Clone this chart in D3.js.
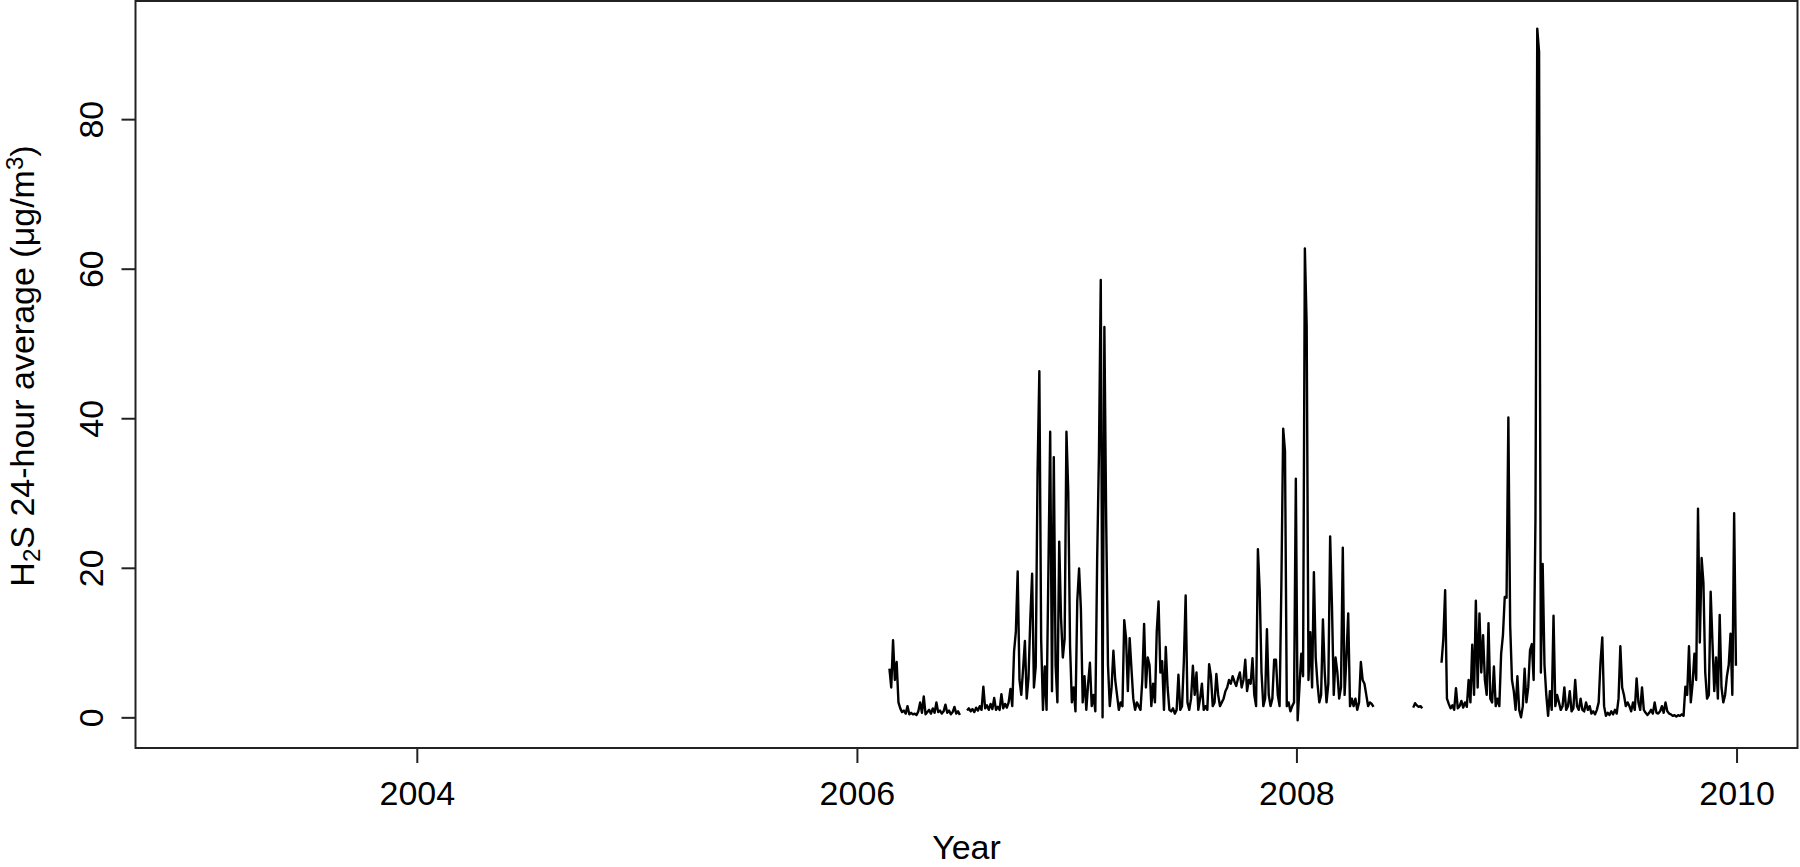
<!DOCTYPE html>
<html>
<head>
<meta charset="utf-8">
<script src="https://cdn.jsdelivr.net/npm/d3@7"></script>
<style>
  body { margin: 0; background: #fff; }
  svg text { font-family: "Liberation Sans", Arial, sans-serif; fill: #000; }
</style>
</head>
<body>
<svg id="chart"></svg>
<script>
// Daily H2S record runs 2003-01-01 .. 2009-12-31 but is only measured from 2006.
// Values below are read off the figure, one every 3 days, per measured stretch.
const seriesStart = "2003-01-01";
const seriesEnd = "2009-12-31";
const stepDays = 3;

const segStarts = ["2006-02-24", "2006-07-03", "2008-07-13", "2008-08-29"];

const segA = [
  6.5, 4.0, 10.3, 5.0, 7.4, 2.0, 1.2, 0.7, 0.9, 0.5,
  1.5, 0.4, 0.6, 0.4, 0.5, 0.3, 0.8, 2.0, 0.6, 2.8,
  0.4, 0.7, 1.0, 0.5, 1.2, 0.6, 2.0, 0.7, 0.9, 0.5,
  0.8, 1.7, 0.6, 0.9, 0.4, 0.7, 1.4, 0.5, 0.8, 0.3
];

const segB = [
  0.9, 1.2, 0.8, 1.1, 0.7, 1.3, 0.9, 1.5, 1.0, 4.1,
  1.2, 1.6, 1.0, 1.8, 1.1, 2.6, 1.0, 1.4, 1.0, 3.1,
  1.2, 1.8, 1.3, 2.0, 3.8, 1.5, 8.8, 11.5, 19.5, 5.0,
  3.0, 6.5, 10.2, 2.5, 5.3, 13.2, 19.2, 4.0, 6.8, 32.6,
  46.3, 10.4, 1.0, 6.8, 1.0, 19.5, 38.2, 3.5, 34.8, 7.0,
  2.0, 23.5, 13.3, 8.0, 10.5, 38.2, 30.2, 9.5, 2.0, 4.0,
  0.8, 15.6, 19.9, 14.5, 2.0, 5.5, 1.0, 4.5, 7.3, 1.5,
  3.0, 0.8, 21.0, 35.3, 58.5, 0.0, 52.2, 26.4, 7.0, 1.5,
  4.0, 8.9, 5.0, 3.0, 1.0, 2.0, 1.5, 13.0, 10.6, 3.5,
  10.6, 6.5, 2.5, 1.0, 2.0, 1.5, 1.0, 5.0, 12.5, 4.0,
  8.0, 7.0, 1.5, 4.5, 2.0, 11.5, 15.5, 6.0, 7.5, 1.0,
  9.4, 4.0, 1.0, 0.8, 1.2, 0.5, 1.0, 5.7, 1.0, 1.5,
  7.5, 16.3, 2.0, 1.0, 2.5, 6.9, 3.0, 6.0, 1.0, 2.5,
  4.5, 1.0, 1.5, 1.0, 7.1, 5.5, 1.5, 2.0, 5.8, 3.0,
  1.5, 2.0, 2.5, 3.5, 4.0, 5.0, 4.5, 5.5, 4.8, 4.2,
  5.2, 6.0, 4.0, 5.0, 7.7, 3.5, 5.0, 4.5, 7.9, 3.0,
  1.5, 22.5, 17.0, 6.0, 1.5, 2.5, 11.8, 3.0, 1.5, 2.5,
  7.7, 7.7, 3.0, 1.5, 17.8, 38.6, 35.6, 1.5, 2.0, 0.8,
  1.5, 2.0, 31.9, -0.4, 4.0, 8.5, 5.5, 62.7, 52.4, 5.0,
  11.4, 4.0, 19.4, 8.0, 4.5, 2.0, 3.0, 13.1, 6.0, 2.0,
  4.5, 24.2, 15.0, 3.0, 8.0, 6.0, 2.5, 4.0, 22.7, 3.0,
  8.0, 13.9, 1.5, 2.5, 1.5, 2.5, 1.0, 2.0, 7.4, 5.0,
  4.5, 3.0, 1.5, 2.0, 1.8, 1.4
];

const segC = [1.3, 1.9, 1.6, 1.4, 1.5, 1.2];

const segD = [
  7.3, 10.5, 17.0, 2.5, 1.8, 1.2, 1.6, 1.0, 3.9, 1.2,
  1.5, 2.2, 1.3, 2.0, 1.4, 5.0, 2.0, 9.7, 3.0, 15.6,
  4.0, 13.9, 6.0, 11.0, 5.0, 3.0, 12.6, 2.5, 2.0, 6.8,
  1.5, 2.5, 1.5, 8.5, 11.0, 16.1, 16.0, 40.1, 12.3, 5.0,
  3.5, 1.0, 5.5, 1.0, 0.0, 1.5, 6.5, 2.0, 4.0, 9.0,
  9.8, 5.0, 26.5, 92.1, 89.0, 6.0, 20.5, 7.0, 3.0, 0.2,
  3.5, 1.0, 13.6, 1.5, 3.0, 2.0, 1.0, 1.5, 4.0, 1.0,
  1.5, 3.5, 0.8, 1.2, 5.0, 1.5, 1.0, 2.5, 1.0, 0.8,
  2.0, 1.0, 1.5, 0.5, 0.8, 0.4, 1.0, 2.0, 7.3, 10.7,
  1.5, 0.2, 0.6, 0.3, 0.8, 0.4, 1.0, 0.5, 2.5, 9.5,
  4.0, 3.0, 1.5, 2.0, 1.5, 0.8, 2.0, 1.0, 5.2, 2.0,
  1.0, 4.0, 1.0, 0.6, 0.3, 0.6, 1.0, 0.5, 2.0, 0.6,
  0.5, 0.8, 1.5, 0.6, 2.0, 0.8, 0.5, 0.4, 0.2, 0.3,
  0.1, 0.3, 0.2, 0.4, 0.2, 4.1, 3.0, 9.5, 2.0, 4.5,
  8.5, 5.0, 27.9, 10.0, 21.3, 18.0, 6.0, 2.5, 3.0, 16.8,
  10.0, 3.5, 8.0, 2.5, 13.7, 4.0, 2.0, 3.0, 5.5, 7.0,
  11.2, 3.0, 27.3, 6.9
];

const xTickYears = [2004, 2006, 2008, 2010];
const yTicks = [0, 20, 40, 60, 80];
const xLabel = "Year";

const chart = (() => {
    var ns = {};
    ns.width = 1800;
    ns.height = 867;
    ns.marginTop = 1;
    ns.marginRight = 2.5;
    ns.marginBottom = 119;
    ns.marginLeft = 135.5;

    ns.build = function() {
        const parse = d3.utcParse("%Y-%m-%d");
        const segs = [segA, segB, segC, segD];
        ns.segments = segs.map((vals, k) => {
            const t0 = parse(segStarts[k]);
            return vals.map((v, i) => ({ date: d3.utcDay.offset(t0, i * stepDays), value: v }));
        });
    };

    ns.draw = function() {
        const { width, height, marginTop, marginRight, marginBottom, marginLeft } = ns;

        // R-style axes: data range padded by 4% on each side
        const t0 = d3.utcParse("%Y-%m-%d")(seriesStart);
        const t1 = d3.utcParse("%Y-%m-%d")(seriesEnd);
        const tPad = 0.04 * (t1 - t0);
        const x = d3.scaleUtc()
            .domain([new Date(+t0 - tPad), new Date(+t1 + tPad)])
            .range([marginLeft, width - marginRight]);

        const [vMin, vMax] = d3.extent(ns.segments.flat(), d => d.value);
        const vPad = 0.04 * (vMax - vMin);
        const y = d3.scaleLinear()
            .domain([vMin - vPad, vMax + vPad])
            .range([height - marginBottom, marginTop]);

        const svg = d3.select("#chart")
            .attr("width", width)
            .attr("height", height)
            .attr("viewBox", [0, 0, width, height]);

        svg.append("rect")
            .attr("width", width).attr("height", height)
            .attr("fill", "#fff");

        // Series
        const line = d3.line()
            .x(d => x(d.date))
            .y(d => y(d.value));

        svg.append("g")
            .attr("fill", "none")
            .attr("stroke", "#000")
            .attr("stroke-width", 2.4)
            .attr("stroke-linejoin", "round")
            .selectAll("path")
            .data(ns.segments)
            .join("path")
            .attr("d", line);

        // Box
        svg.append("rect")
            .attr("x", marginLeft)
            .attr("y", marginTop)
            .attr("width", width - marginRight - marginLeft)
            .attr("height", height - marginBottom - marginTop)
            .attr("fill", "none")
            .attr("stroke", "#222")
            .attr("stroke-width", 2);

        // Bottom axis
        svg.append("g")
            .attr("transform", `translate(0,${height - marginBottom})`)
            .call(d3.axisBottom(x)
                .tickValues(xTickYears.map(yr => new Date(Date.UTC(yr, 0, 1))))
                .tickFormat(d3.utcFormat("%Y"))
                .tickSize(15))
            .call(g => g.select(".domain").remove())
            .call(g => g.selectAll(".tick line").attr("stroke", "#222").attr("stroke-width", 2))
            .call(g => g.selectAll(".tick text")
                .attr("y", 57).attr("dy", 0)
                .attr("font-size", 34)
                .attr("fill", "#000"));

        // Left axis, labels parallel to the axis
        svg.append("g")
            .attr("transform", `translate(${marginLeft},0)`)
            .call(d3.axisLeft(y).tickValues(yTicks).tickSize(14))
            .call(g => g.select(".domain").remove())
            .call(g => g.selectAll(".tick line").attr("stroke", "#222").attr("stroke-width", 2))
            .call(g => g.selectAll(".tick text")
                .attr("transform", "rotate(-90)")
                .attr("x", 0).attr("y", -33).attr("dy", 0)
                .attr("text-anchor", "middle")
                .attr("font-size", 34)
                .attr("fill", "#000"));

        // Axis titles
        svg.append("text")
            .attr("x", (marginLeft + width - marginRight) / 2)
            .attr("y", 859)
            .attr("text-anchor", "middle")
            .attr("font-size", 34)
            .text(xLabel);

        const yl = svg.append("text")
            .attr("transform", "translate(34,366) rotate(-90)")
            .attr("text-anchor", "middle")
            .attr("font-size", 34);
        yl.append("tspan").text("H");
        yl.append("tspan").attr("font-size", 24).attr("dy", 6).text("2");
        yl.append("tspan").attr("dy", -6).text("S 24-hour average (\u03bcg/m");
        yl.append("tspan").attr("font-size", 24).attr("dy", -11).text("3");
        yl.append("tspan").attr("dy", 11).text(")");
    };
    return ns;
})();

chart.build();
chart.draw();
</script>
</body>
</html>
